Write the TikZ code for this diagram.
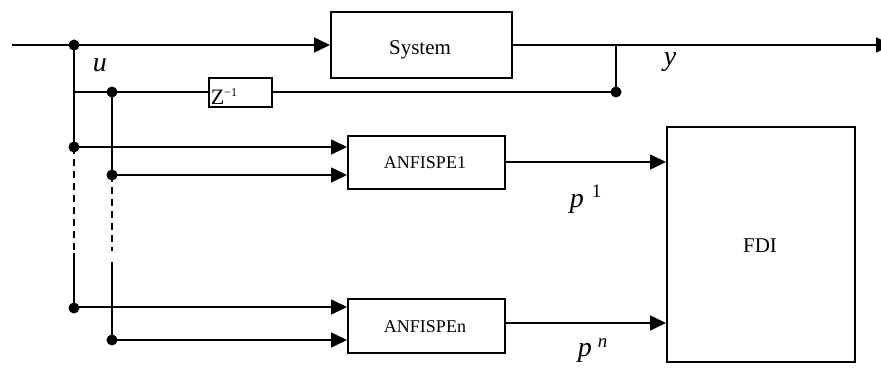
\documentclass[tikz,border=0pt]{standalone}
\usepackage{fontspec}
\setmainfont{Liberation Serif}
\usetikzlibrary{arrows.meta}
\begin{document}
\begin{tikzpicture}[x=1pt,y=-1pt,line width=1.6pt,
  blk/.style={draw,rectangle,inner sep=0pt,anchor=north west},
  arr/.style={-{Triangle[length=16pt,width=15pt]}},
  dsh/.style={dash pattern=on 7pt off 5pt},
  txt/.style={inner sep=0pt,anchor=base},
  lbl/.style={inner sep=0pt,anchor=base west,font=\fontsize{28}{30}\selectfont\itshape}]
\useasboundingbox (0,0) rectangle (881,369);
% boxes
\node[blk,minimum width=181pt,minimum height=66pt] (sys) at (330,11) {};
\node[blk,minimum width=63pt,minimum height=29pt] (z) at (208,77) {};
\node[blk,minimum width=157pt,minimum height=53pt] (a1) at (347,135) {};
\node[blk,minimum width=157pt,minimum height=54pt] (an) at (347,298) {};
\node[blk,minimum width=188pt,minimum height=235pt] (fdi) at (666,126) {};
% box texts
\node[txt,font=\fontsize{21}{23}\selectfont] (tsys) at (420,55) {System};
\node[txt,font=\fontsize{18}{20}\selectfont] (ta1) at (425,168) {ANFISPE1};
\node[txt,font=\fontsize{18}{20}\selectfont] (tan) at (425,332) {ANFISPEn};
\node[txt,font=\fontsize{21}{23}\selectfont] (tfdi) at (760,252) {FDI};
\node[inner sep=0pt,anchor=base west,font=\fontsize{22}{24}\selectfont] (tz) at (210,104) {Z\raisebox{8pt}{\fontsize{12}{13}\selectfont −1}};
% labels
\node[lbl] (lu) at (92,72) {u};
\node[lbl] (ly) at (663,66) {y};
\node[lbl] (lp1) at (569,207) {p\hspace{8pt}\raisebox{10pt}{\fontsize{19}{20}\upshape\selectfont 1}};
\node[lbl] (lpn) at (577,356) {p\hspace{6pt}\raisebox{9pt}{\fontsize{19}{20}\selectfont n}};
% coordinates
\coordinate (in) at (12,45);
\coordinate (j1) at (74,45);
\coordinate (out) at (892,45);
\coordinate (ty) at (616,45);
\coordinate (tzd) at (616,92);
\coordinate (c1) at (74,92);
\coordinate (j2) at (112,92);
\coordinate (j3) at (74,147);
\coordinate (k1) at (74,253);
\coordinate (j5) at (74,308);
\coordinate (j4) at (112,175);
\coordinate (k2) at (112,251);
\coordinate (k3) at (112,262);
\coordinate (j6) at (112,340);
% main line
\draw (in) -- (j1);
\draw[arr] (j1) -- (j1 -| sys.west);
\draw[arr] (sys.east |- j1) -- (out);
\draw (ty) -- (tzd);
% delay line
\draw (c1) -- (c1 -| z.west);
\draw (z.east |- tzd) -- (tzd);
% verticals
\draw (j1) -- (j3);
\draw[dsh] (j3) -- (k1);
\draw (k1) -- (j5);
\draw (j2) -- (j4);
\draw[dsh] (j4) -- (k2);
\draw (k3) -- (j6);
% inputs to ANFISPE blocks
\draw[arr] (j3) -- (j3 -| a1.west);
\draw[arr] (j4) -- (j4 -| a1.west);
\draw[arr] (j5 |- 0,307) -- (an.west |- 0,307);
\draw[arr] (j6) -- (j6 -| an.west);
% outputs
\draw[arr] (a1.east |- 0,162) -- (fdi.west |- 0,162);
\draw[arr] (an.east |- 0,323) -- (fdi.west |- 0,323);
% dots
\foreach \p in {j1,j2,j3,j4,j5,j6,tzd} \fill (\p) circle (5.5pt);
\end{tikzpicture}
\end{document}
